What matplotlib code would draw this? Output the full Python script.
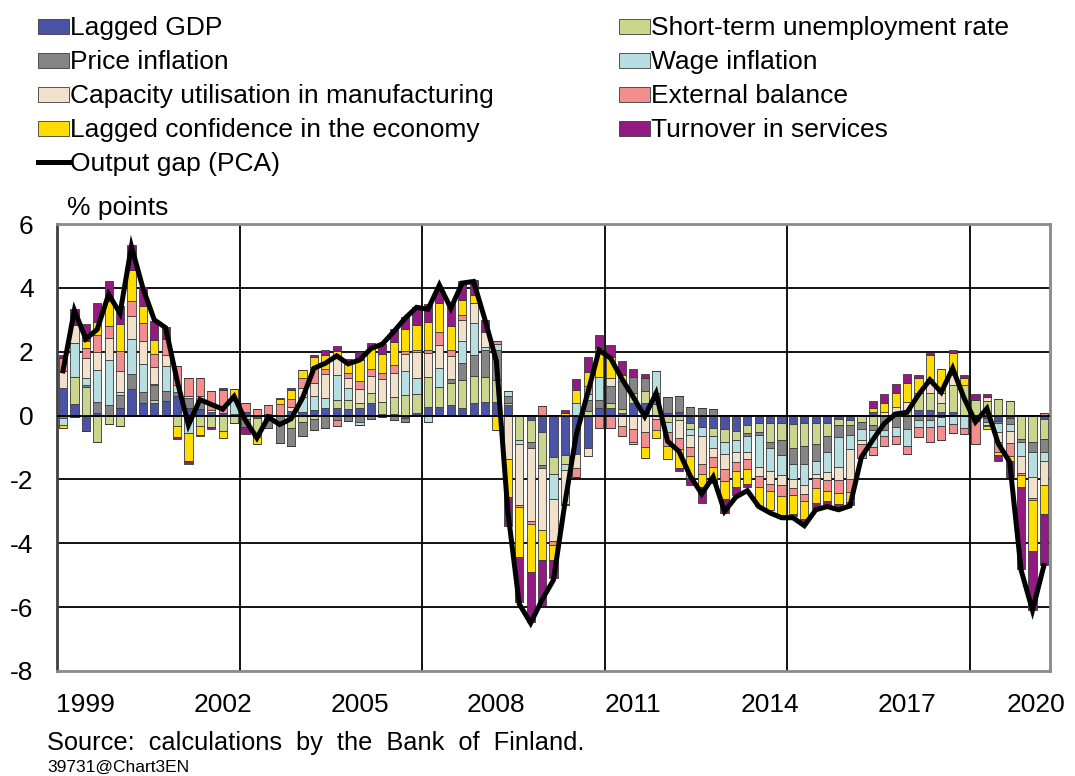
import numpy as np
import matplotlib
matplotlib.use("Agg")
import matplotlib.pyplot as plt
from matplotlib.patches import Rectangle
from matplotlib.lines import Line2D
from matplotlib.transforms import ScaledTranslation

plt.rcParams['font.family'] = ['Liberation Sans', 'DejaVu Sans']
plt.rcParams['axes.unicode_minus'] = False

# quarterly data 1999Q1 - 2020Q3
gdp = [0.85, 0.35, -0.47, 0.08, 0, 0.24, 0.82, 0.38, 0.38, 0.47,
       0.6, 0.24, 0.2, 0.1, 0.08, 0.05, 0.1, -0.08, 0.06, 0,
       0.13, 0.12, 0.18, 0.23, 0.23, 0.2, 0.25, 0.39, 0.05, 0.05,
       -0.07, 0.07, 0.28, 0.28, 0.33, 0.23, 0.39, 0.44, 0.44, 0.33,
       0, -0.13, -0.52, -1.3, -1.25, -1.2, -1.0, 0.23, 0.24, 0.07,
       0.39, 0.39, 0, 0.08, 0.1, -0.23, -0.35, -0.4, -0.42, -0.47,
       -0.3, -0.23, -0.23, -0.23, -0.26, -0.23, -0.23, -0.24, -0.1, -0.15,
       0, 0.12, 0, 0.1, 0, 0.17, 0.19, 0.12, 0.12, 0,
       0, -0.08, -0.18, -0.08, 0, 0, -0.1]
stu = [0, 0.87, 0.89, -0.82, -0.27, -0.33, 0, 0, 0.1, 0,
       -0.33, 0, -0.33, -0.35, -0.48, -0.22, -0.12, -0.6, -0.15, 0,
       -0.4, -0.2, -0.1, 0, 0.26, 0.3, 0.14, 0.31, 0.39, 0.52,
       0.65, 0.6, 0.94, 0.63, 0.68, 0.89, 0.84, 0.78, 0.68, 0.05,
       -0.78, -0.71, -1.04, -0.52, -0.26, 0, 0.15, 0, 0.16, 0.15,
       0.31, 0.37, 0.35, -0.2, -0.15, -0.19, 0, -0.25, -0.4, -0.31,
       -0.25, -0.3, -0.6, -0.55, -0.76, -0.71, -0.66, -0.39, -0.21, -0.14,
       -0.2, -0.3, 0, 0, 0.17, 0.54, 0.52, 0.28, 0.84, 0.95,
       0.5, 0.47, 0.53, 0.45, -0.72, -0.84, -0.63]
price = [-0.08, -0.05, 0.08, 0.33, 0.32, 0.4, 0.47, 0.35, 0.47, 0.3,
         0.15, 0.31, 0.3, 0, 0, 0, -0.25, 0, -0.25, -0.85,
         -0.55, -0.45, -0.35, -0.38, -0.15, -0.17, -0.2, -0.12, -0.05, -0.15,
         -0.13, 0, 0, 0, 0.13, 0.54, 0.68, 0.84, 0.94, 0.23,
         0, -0.16, -0.08, 0, 0, 0, 0.33, 0.26, 0.54, 0.85,
         0.5, 0.42, 0.35, 0.5, 0.52, 0.26, 0.24, 0.2, 0, 0,
         -0.08, -0.08, -0.19, -0.47, -0.49, -0.57, -0.52, -0.5, -0.37, -0.31,
         -0.21, -0.16, -0.45, -0.35, -0.42, -0.15, -0.13, -0.05, 0, 0,
         0, -0.12, -0.05, -0.18, -0.1, -0.31, -0.42]
wage = [-0.2, 1.04, 0.21, 1.02, 1.43, 0.1, 1.1, 0.88, 0.05, 0.77,
        0.2, -0.55, 0, 0, 0, 0.48, 0, 0, 0, 0,
        0, 0.45, 0.44, 0.31, 0.78, 0.37, -0.08, 0, 0, 0,
        0.75, 0.5, -0.2, 0.57, 0, 0.66, 0.99, 0.1, 0.19, 0.17,
        -0.1, -0.03, 0, -0.8, -0.21, 0.4, 0.2, 0.73, 0, 0,
        0, 0, 0.69, -0.3, 0, -0.2, -0.3, -0.35, -0.39, -0.37,
        -0.52, -0.99, -0.73, -0.6, -0.47, -0.66, -0.42, -0.65, -0.94, -0.44,
        -0.37, -0.52, -0.2, -0.3, -0.54, -0.2, -0.24, -0.29, -0.26, -0.4,
        -0.16, -0.1, -0.3, -0.21, -0.44, -0.76, -0.26]
capacity = [0.55, 0.57, 0.63, 0.57, 0.68, 0.65, 0.73, 0.71, 0.52, 0.37,
            0, 0.07, 0.1, 0.08, 0, 0, 0, 0, 0, 0,
            0.15, 0.3, 0.4, 0.76, 0.55, 0.31, 0.44, 0.54, 0.72, 0.77,
            0.54, 0.81, 0.73, 0.73, 0.73, 0.68, 0.63, 0.47, 0, -1.36,
            -1.93, -2.27, -1.95, -1.3, -1.04, -0.45, -0.27, 0, 0.24, -0.33,
            -0.42, -0.5, -0.1, 0, -0.55, -0.37, -0.88, -0.3, -0.47, -0.29,
            -0.2, -0.28, -0.39, -0.33, -0.29, -0.28, -0.14, -0.24, -0.39, -0.96,
            -0.1, 0, 0.12, 0.17, 0.26, 0, 0.45, 0.31, 0.31, 0,
            0, 0.12, -0.3, -0.39, -0.55, -0.68, -0.77]
external = [0.4, 0, 0.31, 0.52, 0.37, 0.63, 0.47, 0.57, 0.42, 0.5,
            0.6, 0.55, 0.58, 0.6, 0.73, 0, 0.28, 0.22, 0.28, 0.37,
            0.23, 0.3, 0.5, 0.15, -0.17, 0.15, 0.24, 0.22, 0.17, 0.24,
            0.08, 0.07, 0.1, 0.42, 0.19, 0.16, 0, 0, 0.07, 0,
            -0.05, -0.1, 0.3, -0.14, -0.05, -0.26, 0.26, -0.4, -0.4, -0.3,
            -0.4, -0.49, -0.35, -0.45, -0.35, -0.28, -0.3, -0.3, -0.37, -0.31,
            -0.33, -0.36, -0.21, -0.33, -0.21, -0.24, -0.31, -0.33, -0.4, -0.38,
            -0.45, -0.24, -0.31, -0.25, -0.24, -0.33, -0.47, -0.42, -0.28, -0.18,
            -0.73, -0.04, -0.3, -0.4, -0.05, -0.05, 0.07]
confidence = [-0.12, 0, 0.21, 0.42, 0.78, 0.86, 0.98, 0.55, 0.44, 0,
              -0.35, -0.88, -0.27, 0, -0.22, 0.3, 0, -0.22, 0, 0.14,
              0.28, 0.25, 0.31, 0.45, 0.2, 0.37, 0.68, 0.65, 0.6, 0.73,
              0.69, 0.78, 0.89, 0.89, 0.75, 0.47, 0.26, 0, -0.45, -1.2,
              -1.57, -1.51, -0.94, -0.47, 0.08, 0.41, 0.42, 0.9, 0.66, 0.2,
              -0.08, -0.34, -0.25, -0.4, -0.6, -0.7, -0.4, -0.4, -0.57, -0.49,
              -0.47, -0.6, -0.62, -0.6, -0.6, -0.54, -0.46, -0.34, -0.37, -0.33,
              0, 0.13, 0.26, 0.45, 0.6, 0.48, 0.73, 0.76, 0.7, 0.23,
              0, -0.08, -0.12, -0.15, -0.37, -1.6, -0.9]
turnover = [0.1, 0.5, 0.54, 0.6, 0.63, 0.55, 0.76, 0.6, 0.58, 0.35,
            -0.04, -0.08, -0.05, -0.08, 0.06, 0, -0.22, 0, 0, 0.05,
            0.07, 0, 0.07, 0.15, 0.15, 0.07, 0.23, 0.16, 0.31, 0.39,
            0.38, 0.57, 0.57, 0.37, 0.71, 0.57, 0.47, 0.37, 0, -0.89,
            -1.41, -1.57, -1.41, -0.55, 0.1, 0.35, 0.47, 0.39, 0.36, 0.45,
            0.25, 0.13, 0, 0, -0.1, -0.22, -0.5, -0.1, -0.42, -0.25,
            -0.1, 0, 0, 0, -0.05, -0.08, -0.19, -0.1, -0.1, -0.08,
            0, 0.2, 0.31, 0.26, 0.28, 0.09, 0.07, 0, 0.08, 0.08,
            0.18, 0.1, -0.18, -0.52, -2.56, -1.85, -1.59]
output_gap = [1.4, 3.3, 2.4, 2.7, 3.8, 3.2, 5.3, 4.0, 3.0, 2.75,
              1.1, -0.3, 0.5, 0.35, 0.2, 0.6, -0.15, -0.7, -0.05, -0.28,
              -0.1, 0.55, 1.48, 1.64, 1.87, 1.62, 1.74, 2.1, 2.24, 2.63,
              3.05, 3.39, 3.33, 4.09, 3.36, 4.15, 4.2, 3.0, 1.7, -3.0,
              -5.9, -6.5, -5.77, -5.15, -2.75, -0.6, 0.7, 2.05, 1.8, 1.15,
              0.58, -0.03, 0.7, -0.8, -1.12, -1.9, -2.45, -1.92, -3.0, -2.55,
              -2.35, -2.85, -3.05, -3.2, -3.2, -3.45, -2.95, -2.85, -2.95, -2.83,
              -1.3, -0.76, -0.25, 0.05, 0.1, 0.65, 1.12, 0.73, 1.48, 0.55,
              -0.2, 0.22, -0.88, -1.45, -4.84, -6.1, -4.7]

series_names = ["Lagged GDP", "Short-term unemployment rate", "Price inflation",
                "Wage inflation", "Capacity utilisation in manufacturing",
                "External balance", "Lagged confidence in the economy",
                "Turnover in services"]
series_data = [gdp, stu, price, wage, capacity, external, confidence, turnover]
colors = ["#4B54A4", "#C9D68C", "#858585", "#B7DFE2", "#F2E1CA",
          "#F28E8E", "#FFDD00", "#921A82"]

years = [1999, 2002, 2005, 2008, 2011, 2014, 2017, 2020]

W, H = 1075, 776
FS = 19
fig = plt.figure(figsize=(W / 100, H / 100), dpi=100)
ax = fig.add_axes([57.3 / W, 1 - 671 / H, (1049.6 - 57.3) / W, (671 - 224) / H])

n = len(gdp)
x = np.arange(n)
pos_bottom = np.zeros(n)
neg_bottom = np.zeros(n)
for vals, c in zip(series_data, colors):
    v = np.array(vals, dtype=float)
    p = np.where(v > 0, v, 0)
    m = np.where(v < 0, v, 0)
    ax.bar(x, p, 0.72, bottom=pos_bottom, color=c, edgecolor="#3a3a3a",
           linewidth=0.6, zorder=3)
    ax.bar(x, m, 0.72, bottom=neg_bottom, color=c, edgecolor="#3a3a3a",
           linewidth=0.6, zorder=3)
    pos_bottom += p
    neg_bottom += m

ax.plot(x, output_gap, color="black", linewidth=3.6, zorder=4,
        solid_joinstyle="miter")

ax.set_xlim(-0.5, n - 0.5)
ax.set_ylim(-8, 6)
ax.set_yticks(range(-8, 7, 2))
for yv in range(-6, 6, 2):
    ax.axhline(yv, color="black", linewidth=1.3, zorder=1)
ax.axhline(0, color="black", linewidth=1.3, zorder=3.5)
for b in range(16, n, 16):
    ax.axvline(b - 0.5, color="black", linewidth=1.3, zorder=1)

ax.set_xticks([2 + 12 * i for i in range(len(years))])
ax.set_xticklabels([str(y) for y in years])
ax.tick_params(axis="both", length=0, labelsize=FS)
ax.tick_params(axis="y", pad=17)
ax.tick_params(axis="x", pad=16)
# last year label sits a bit inward, as in the original
last = ax.get_xticklabels()[-1]
last.set_transform(last.get_transform() + ScaledTranslation(-8 / 100, 0, fig.dpi_scale_trans))
for s in ax.spines.values():
    s.set_color("#8a8a8a")
    s.set_linewidth(2)
ax.spines["left"].set_color("#404040")

# legend, laid out like the original (two columns, row-wise)
def fx(px):
    return px / W

def fy(py):
    return 1 - py / H

rows = [26, 60, 94, 128]
order = [(0, 0), (2, 0), (4, 0), (6, 0), (1, 1), (3, 1), (5, 1), (7, 1)]
for k, (si, col) in enumerate(order):
    r = rows[k % 4]
    x0 = 38 if col == 0 else 619
    fig.add_artist(Rectangle((fx(x0), fy(r + 8)), fx(31), 15 / H,
                             facecolor=colors[si], edgecolor="#3a3a3a",
                             linewidth=0.6, transform=fig.transFigure))
    fig.text(fx(x0 + 32), fy(r + 2), series_names[si], fontsize=FS,
             va="center")
fig.add_artist(Line2D([fx(38), fx(69)], [fy(162), fy(162)], color="black",
                      linewidth=3.6, transform=fig.transFigure))
fig.text(fx(70), fy(164), "Output gap (PCA)", fontsize=FS, va="center")

fig.text(fx(67), fy(208), "% points", fontsize=FS, va="center")
fig.text(fx(47), fy(743), "Source:  calculations  by  the  Bank  of  Finland.",
         fontsize=18.3, va="center")
fig.text(fx(47), fy(767), "39731@Chart3EN", fontsize=12.5, va="center")

fig.savefig("out.png", dpi=100)
